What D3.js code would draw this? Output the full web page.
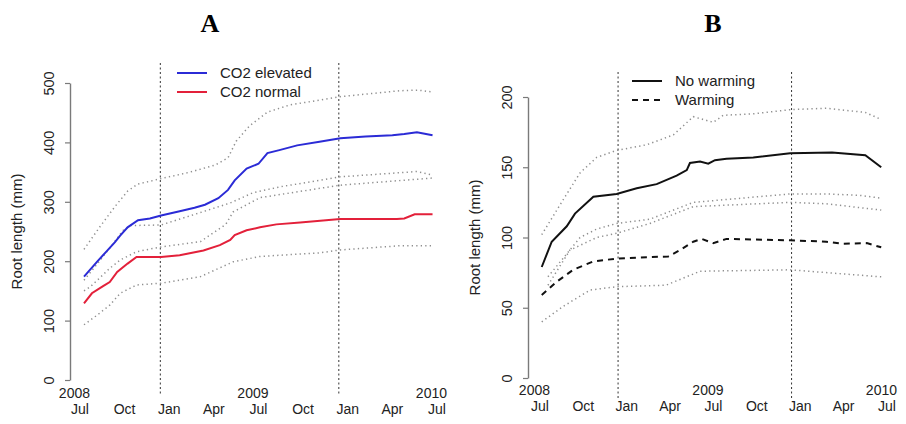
<!DOCTYPE html>
<html><head><meta charset="utf-8">
<script src="https://cdn.jsdelivr.net/npm/d3@7"></script>
<style>
body{margin:0;background:#fff;}
text{font-family:"Liberation Sans",Arial,sans-serif;}
</style></head>
<body><svg id="c" width="906" height="424"></svg>
<script>
// months since 1 Jul 2008, value (mm)
const monthTicks = [0,3,6,9,12,15,18,21,24];
const monthLabels = ["Jul","Oct","Jan","Apr","Jul","Oct","Jan","Apr","Jul"];
const yearTicks = [0,12,24];
const yearLabels = ["2008","2009","2010"];
const winterLines = [5.4,17.4];

const yTicksA = [0,100,200,300,400,500];
const yTicksB = [0,50,100,150,200];

// Panel A
const co2Elevated = [[0.27,174],[1.14,199],[1.8,217],[2.35,232],[2.7,243],[3.2,257],[3.9,269],[4.7,272],[5.45,277],[6.7,284],[7.7,290],[8.4,295],[9.3,306],[9.95,320],[10.4,336],[11.2,356],[11.6,360],[12.0,364],[12.6,382],[13.4,387],[14.6,395],[16.1,401],[17.5,407],[19.2,410],[21.0,412],[21.8,414],[22.65,417],[23.7,412]];
const co2Normal = [[0.27,129],[0.8,146],[1.55,158],[2.0,165],[2.5,182],[3.2,196],[3.8,207],[5.45,207],[6.7,210],[8.3,218],[9.4,227],[10.1,236],[10.4,244],[11.2,252],[12.1,257],[13.2,262],[14.8,265],[17.5,271],[21.3,271],[21.8,272],[22.5,279],[23.7,279]];
const elevatedUpper = [[0.27,220],[1.34,258],[2.35,292],[3.2,318],[3.9,330],[5.45,339],[7.4,350],[9.1,362],[9.95,374],[10.5,402],[11.4,428],[12.6,451],[14.1,463],[17.5,477],[21.5,487],[22.7,488],[23.7,485]];
const elevatedLower = [[0.27,168],[1.14,195],[2.0,222],[2.9,252],[3.4,260],[5.45,261],[7.6,278],[10.1,298],[11.6,315],[13.4,325],[17.5,342],[22.65,351],[23.7,345]];
const normalUpper = [[0.27,150],[0.7,157],[2.0,188],[2.7,202],[3.8,216],[5.45,224],[8.1,233],[9.8,262],[10.3,283],[12.1,307],[17.5,328],[23.7,340]];
const normalLower = [[0.27,93],[1.14,109],[2.0,126],[2.7,146],[3.8,160],[5.45,163],[8.1,174],[10.3,199],[12.1,208],[16.1,214],[17.5,219],[21.5,226],[23.7,226]];

// Panel B
const noWarming = [[0.12,79],[0.81,97],[1.85,108],[2.42,117],[3.69,129],[5.3,131],[6.69,135],[8.07,138],[9.45,144],[10.15,148],[10.37,153],[11.07,154],[11.64,152.5],[12.1,155],[12.9,156],[14.75,157],[17.3,160],[20.2,160.5],[22.5,158.6],[23.6,150]];
const warming = [[0.12,59],[1.15,68.5],[2.3,77],[3.69,83],[5.3,85],[7.38,86],[8.87,86.5],[9.68,91],[10.6,97],[11.18,99],[11.98,96],[12.9,99],[17.3,98],[19.8,97],[20.95,95.5],[22.6,96],[23.6,93]];
const noWarmUpper = [[0.12,102],[1.61,127],[2.77,146],[3.92,157],[5.3,162],[7.38,166],[9.22,173],[10.6,186],[11.98,182],[12.68,187],[14.75,188],[17.3,191],[19.8,192],[22.5,189],[23.6,184]];
const noWarmLower = [[0.55,72],[2.77,100],[3.92,106],[5.3,110],[7.6,113],[10.6,125],[17.3,131],[19.8,131],[22.1,130],[23.6,128]];
const warmUpper = [[0.55,66],[2.07,91],[3.92,100],[5.3,103],[7.6,110],[10.6,122],[17.3,125],[19.8,124],[23.6,119.5]];
const warmLower = [[0.12,40],[1.61,51],[3.46,62.6],[5.3,65],[8.7,66],[11.07,76],[17.3,77],[23.6,72]];

const svg = d3.select("#c");

function panel(cfg){
  const x = d3.scaleLinear().domain([0,24]).range(cfg.xr);
  const y = d3.scaleLinear().domain(cfg.yd).range(cfg.yr);
  const g = svg.append("g");
  g.append("text").attr("x",cfg.titleX).attr("y",32).attr("text-anchor","middle")
    .style("font-family","'Liberation Serif',serif").style("font-weight","bold").style("font-size","26px").text(cfg.title);
  const ax = g.append("g").attr("transform",`translate(${cfg.axisX},0)`)
    .call(d3.axisLeft(y).tickValues(cfg.yTicks).tickSize(5).tickSizeOuter(0).tickFormat(d3.format("d")));
  ax.select(".domain").attr("stroke","#7a7a7a").attr("stroke-width",1.4);
  ax.selectAll(".tick line").attr("stroke","#7a7a7a").attr("stroke-width",1.2);
  ax.selectAll(".tick text").attr("transform","rotate(-90)").attr("x",0).attr("y",-16).attr("dy",0)
    .attr("text-anchor","middle").style("font-size","14.5px").style("font-family","'Liberation Sans',Arial,sans-serif").attr("fill","#222");
  g.append("text").attr("transform",`translate(${cfg.labX},${(cfg.yr[0]+cfg.yr[1])/2}) rotate(-90)`)
    .attr("text-anchor","middle").attr("dy","0.35em").style("font-size","15px").attr("fill","#222").text("Root length (mm)");
  g.selectAll(".ml").data(monthTicks).enter().append("text")
    .attr("x",d=>x(d)).attr("y",cfg.monthY).attr("text-anchor","middle").style("font-size","14px").attr("fill","#222")
    .text((d,i)=>monthLabels[i]);
  g.selectAll(".yl").data(yearTicks).enter().append("text")
    .attr("x",d=>x(d)+10).attr("y",cfg.yearY).attr("text-anchor","end").style("font-size","14px").attr("fill","#222")
    .text((d,i)=>yearLabels[i]);
  g.selectAll(".vl").data(winterLines).enter().append("line")
    .attr("x1",d=>x(d)).attr("x2",d=>x(d)).attr("y1",cfg.vTop).attr("y2",cfg.vBot)
    .attr("stroke","#333").attr("stroke-width",1).attr("stroke-dasharray","2,2.5");
  const line = d3.line().x(d=>x(d[0])).y(d=>y(d[1]));
  cfg.dotted.forEach(s=>{
    g.append("path").attr("d",line(s)).attr("fill","none").attr("stroke","#8f8f8f")
      .attr("stroke-width",1.5).attr("stroke-dasharray","1.3,3.2");
  });
  cfg.main.forEach(s=>{
    g.append("path").attr("d",line(s.data)).attr("fill","none").attr("stroke",s.color)
      .attr("stroke-width",2).attr("stroke-dasharray",s.dash||null);
  });
  cfg.main.forEach((s,i)=>{
    const ly = cfg.legY + i*cfg.legStep;
    g.append("line").attr("x1",cfg.legX).attr("x2",cfg.legX+30).attr("y1",ly).attr("y2",ly)
      .attr("stroke",s.color).attr("stroke-width",2).attr("stroke-dasharray",s.dash||null);
    g.append("text").attr("x",cfg.legX+43).attr("y",ly).attr("dy","0.35em").style("font-size","15px").attr("fill","#222").text(s.name);
  });
}

panel({title:"A",titleX:210,xr:[80,437],yd:[0,500],yr:[380,83],yTicks:yTicksA,axisX:70,labX:17,
  monthY:414,yearY:398,vTop:63,vBot:394,legX:177,legY:73,legStep:19,
  dotted:[elevatedUpper,elevatedLower,normalUpper,normalLower],
  main:[{name:"CO2 elevated",data:co2Elevated,color:"#2b2bd6"},{name:"CO2 normal",data:co2Normal,color:"#e3203a"}]});

panel({title:"B",titleX:713,xr:[540,887],yd:[0,200],yr:[378,97],yTicks:yTicksB,axisX:528,labX:475,
  monthY:411,yearY:395,vTop:72,vBot:398,legX:632,legY:81,legStep:19,
  dotted:[noWarmUpper,noWarmLower,warmUpper,warmLower],
  main:[{name:"No warming",data:noWarming,color:"#111"},{name:"Warming",data:warming,color:"#111",dash:"6,5"}]});
</script></body></html>
